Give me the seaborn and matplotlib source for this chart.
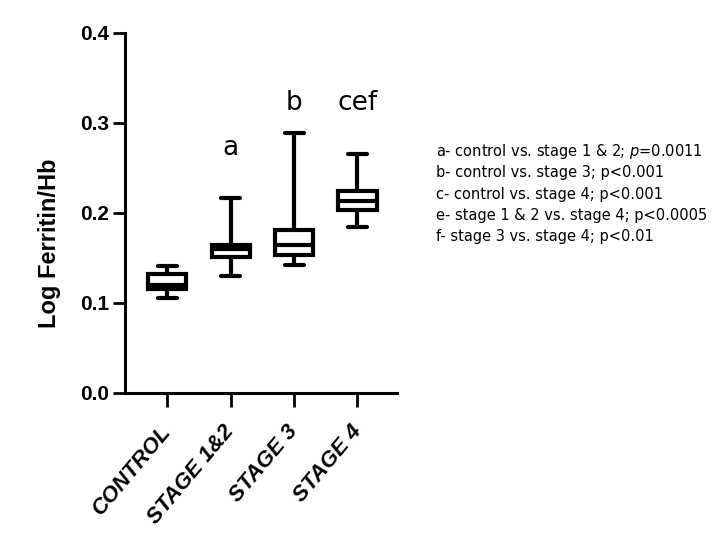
import pandas as pd
import matplotlib
matplotlib.use("Agg")
import matplotlib.pyplot as plt
import seaborn as sns

# five-number summaries: min, q1, median, q3, max
groups = ["CONTROL", "STAGE 1&2", "STAGE 3", "STAGE 4"]
control = [0.105, 0.116, 0.120, 0.132, 0.141]
stage_12 = [0.130, 0.151, 0.160, 0.164, 0.216]
stage_3 = [0.142, 0.153, 0.164, 0.181, 0.289]
stage_4 = [0.184, 0.203, 0.213, 0.224, 0.265]

letters = ["", "a", "b", "cef"]
letter_y = [0.0, 0.264, 0.314, 0.314]

notes = [
    "a- control vs. stage 1 & 2; $\\it{p}$=0.0011",
    "b- control vs. stage 3; p<0.001",
    "c- control vs. stage 4; p<0.001",
    "e- stage 1 & 2 vs. stage 4; p<0.0005",
    "f- stage 3 vs. stage 4; p<0.01",
]

rows = []
for name, vals in zip(groups, [control, stage_12, stage_3, stage_4]):
    for v in vals:
        rows.append({"group": name, "value": v})
df = pd.DataFrame(rows)

sns.set_theme(style="ticks")
plt.rcParams["font.family"] = ["Liberation Sans", "DejaVu Sans"]
plt.rcParams["mathtext.fontset"] = "custom"
plt.rcParams["mathtext.it"] = "DejaVu Sans:italic"
plt.rcParams["mathtext.rm"] = "DejaVu Sans"
for key in ["text.color", "axes.labelcolor", "xtick.color", "ytick.color", "axes.edgecolor"]:
    plt.rcParams[key] = "black"

fig = plt.figure(figsize=(7.2, 5.48), dpi=100)
ax = fig.add_axes([0.174, 0.283, 0.378, 0.657])

sns.boxplot(data=df, x="group", y="value", order=groups, whis=(0, 100),
            width=0.6, color="white", linecolor="black", linewidth=3,
            fliersize=0, ax=ax)

ax.set_xlim(-0.66, 3.63)
ax.set_ylim(0, 0.4)
ax.set_yticks([0.0, 0.1, 0.2, 0.3, 0.4])
ax.set_yticklabels(["0.0", "0.1", "0.2", "0.3", "0.4"], fontsize=15, fontweight="bold")
ax.set_xlabel("")
ax.set_ylabel("Log Ferritin/Hb", fontsize=17, fontweight="bold")
ax.yaxis.set_label_coords(-0.235, 0.417)
sns.despine(ax=ax)
for s in ["left", "bottom"]:
    ax.spines[s].set_linewidth(2.2)
ax.tick_params(axis="y", length=8.5, width=2, pad=3)
ax.tick_params(axis="x", length=10, width=2, pad=15)

for lab in ax.get_xticklabels():
    lab.set_rotation(50)
    lab.set_ha("right")
    lab.set_va("center")
    lab.set_rotation_mode("anchor")
    lab.set_fontsize(16)
    lab.set_fontweight("bold")
    lab.set_fontstyle("italic")

for i, (t, y) in enumerate(zip(letters, letter_y)):
    if t:
        ax.text(i, y, t, ha="center", va="baseline", fontsize=19,
                family="DejaVu Sans")

for k, line in enumerate(notes):
    fig.text(436 / 720, 1 - (156 + 21.3 * k) / 548, line, fontsize=10.5,
             family="DejaVu Sans", va="baseline", ha="left")

fig.savefig("out.png", dpi=100)
